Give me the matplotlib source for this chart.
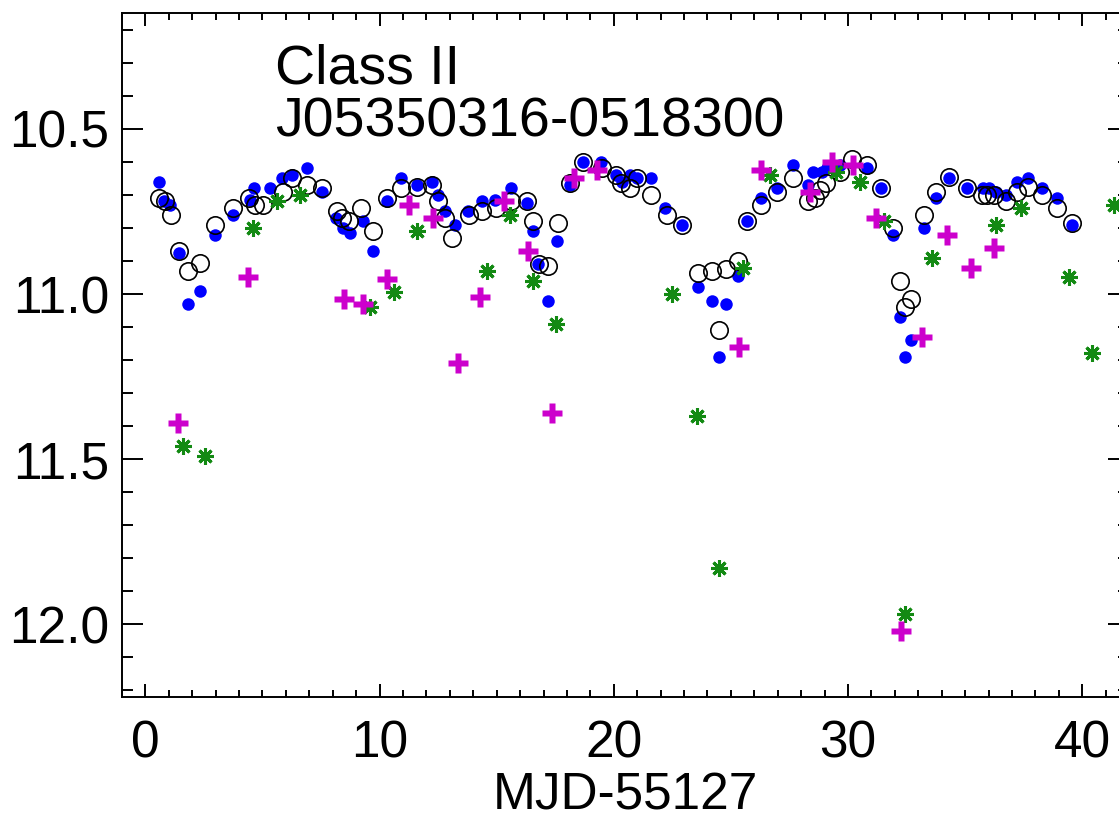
import numpy as np
import matplotlib
matplotlib.use("Agg")
import matplotlib.pyplot as plt
from matplotlib.ticker import MultipleLocator

plt.rcParams["font.family"] = ["Liberation Sans", "DejaVu Sans"]

# blue filled circles
blue_t = [0.60, 0.78, 1.07, 1.45, 1.83, 2.35, 2.99, 3.75, 4.48, 4.65, 5.33, 5.84,
          6.27, 6.90, 7.55, 8.14, 8.44, 8.74, 9.30, 9.72, 10.30, 10.90, 11.60,
          12.24, 12.50, 12.80, 13.20, 13.77, 14.37, 14.93, 15.60, 16.30, 16.55,
          16.76, 17.20, 17.57, 18.12, 18.68, 19.45, 20.10, 20.34, 20.68, 20.98,
          21.60, 22.20, 22.90, 23.60, 24.20, 24.50, 24.80, 25.30, 25.70, 26.30,
          26.95, 27.63, 28.27, 28.50, 28.87, 29.10, 29.64, 30.80, 31.40, 31.90,
          32.20, 32.45, 32.70, 33.26, 33.77, 34.33, 35.10, 35.78, 36.03, 36.33,
          36.76, 37.20, 37.70, 38.30, 38.93, 39.57]
blue_m = [10.66, 10.72, 10.73, 10.875, 11.03, 10.99, 10.82, 10.76, 10.715, 10.68,
          10.68, 10.65, 10.64, 10.62, 10.69, 10.77, 10.80, 10.815, 10.78, 10.87,
          10.72, 10.65, 10.67, 10.66, 10.70, 10.75, 10.79, 10.75, 10.72, 10.715,
          10.68, 10.725, 10.81, 10.91, 11.02, 10.84, 10.67, 10.60, 10.60, 10.64,
          10.66, 10.64, 10.65, 10.65, 10.74, 10.79, 10.98, 11.02, 11.19, 11.03,
          10.945, 10.78, 10.71, 10.68, 10.61, 10.67, 10.63, 10.63, 10.62, 10.61,
          10.62, 10.68, 10.82, 11.07, 11.19, 11.14, 10.80, 10.71, 10.65, 10.68,
          10.68, 10.68, 10.69, 10.70, 10.66, 10.65, 10.68, 10.71, 10.79]

# black open circles
open_t = [0.60, 0.85, 1.10, 1.45, 1.83, 2.35, 2.99, 3.75, 4.43, 4.69, 5.03, 5.88,
          6.27, 6.90, 7.55, 8.20, 8.40, 8.70, 9.20, 9.72, 10.30, 10.90, 11.60,
          12.24, 12.50, 12.80, 13.10, 13.80, 14.37, 14.97, 15.60, 16.30, 16.55,
          16.80, 17.20, 17.60, 18.12, 18.68, 19.50, 20.10, 20.30, 20.70, 21.00,
          21.60, 22.26, 22.90, 23.60, 24.20, 24.50, 24.80, 25.30, 25.70, 26.30,
          26.95, 27.63, 28.27, 28.57, 28.80, 29.08, 29.64, 30.15, 30.80, 31.40,
          31.90, 32.20, 32.45, 32.70, 33.26, 33.77, 34.33, 35.10, 35.70, 35.95,
          36.25, 36.76, 37.20, 37.70, 38.30, 38.93, 39.57]
open_m = [10.71, 10.72, 10.76, 10.87, 10.93, 10.905, 10.79, 10.74, 10.71, 10.73,
          10.73, 10.69, 10.65, 10.67, 10.68, 10.75, 10.77, 10.78, 10.74, 10.81,
          10.71, 10.68, 10.675, 10.67, 10.72, 10.77, 10.83, 10.76, 10.75, 10.74,
          10.72, 10.72, 10.78, 10.91, 10.915, 10.785, 10.665, 10.60, 10.62, 10.64,
          10.665, 10.68, 10.65, 10.70, 10.76, 10.79, 10.935, 10.93, 11.11, 10.925,
          10.90, 10.78, 10.73, 10.69, 10.65, 10.72, 10.71, 10.685, 10.665, 10.63,
          10.59, 10.61, 10.68, 10.80, 10.96, 11.04, 11.015, 10.76, 10.69, 10.645,
          10.68, 10.70, 10.70, 10.70, 10.72, 10.69, 10.675, 10.70, 10.74, 10.785]

# green asterisks
green_t = [1.62, 2.56, 4.60, 5.60, 6.60, 9.60, 10.60, 11.60, 14.58, 15.56, 16.55,
           17.53, 22.50, 23.54, 24.50, 25.50, 26.65, 29.47, 30.50, 31.55, 32.45,
           33.60, 36.33, 37.40, 39.45, 40.40, 41.36]
green_m = [11.46, 11.49, 10.80, 10.72, 10.70, 11.04, 10.995, 10.81, 10.93, 10.76,
           10.96, 11.09, 11.00, 11.37, 11.83, 10.92, 10.64, 10.63, 10.66, 10.78,
           11.97, 10.89, 10.79, 10.74, 10.95, 11.18, 10.73]

# magenta crosses
mag_t = [1.41, 4.40, 8.50, 9.30, 10.30, 11.26, 12.28, 13.35, 14.29, 15.30, 16.33,
         17.36, 18.30, 19.28, 25.33, 26.27, 28.36, 29.30, 30.23, 31.20, 32.28,
         33.18, 34.24, 35.27, 36.25]
mag_m = [11.39, 10.95, 11.015, 11.03, 10.955, 10.73, 10.77, 11.21, 11.01, 10.72,
         10.87, 11.36, 10.65, 10.625, 11.16, 10.625, 10.69, 10.60, 10.61, 10.77,
         12.02, 11.13, 10.82, 10.92, 10.86]

fig = plt.figure(figsize=(11.19, 8.23), dpi=100)
ax = fig.add_axes([0.109, 0.153, 0.900, 0.831])

ax.plot(blue_t, blue_m, "o", color="#0000ff", ms=9.0, mec="none", zorder=3)
ax.plot(open_t, open_m, "o", mfc="none", mec="black", ms=12.5, mew=1.2, zorder=4)
ax.plot(green_t, green_m, ls="none", marker=(8, 2, 0), color="#138a13",
        ms=12, mew=2.2, zorder=5)
ax.plot(mag_t, mag_m, "P", color="#cc00cc", mec="none", ms=15, zorder=6)

ax.set_xlim(-1, 42)
ax.set_ylim(12.22, 10.15)
ax.xaxis.set_major_locator(MultipleLocator(10))
ax.xaxis.set_minor_locator(MultipleLocator(1))
ax.yaxis.set_major_locator(MultipleLocator(0.5))
ax.yaxis.set_minor_locator(MultipleLocator(0.1))
ax.yaxis.set_major_formatter(plt.FormatStrFormatter("%.1f"))

ax.tick_params(which="both", direction="in", top=True, right=True,
               width=1.4, labelsize=37, colors="black")
ax.tick_params(axis="x", which="major", length=9.5, pad=16)
ax.tick_params(axis="x", which="minor", length=4.7)
ax.tick_params(axis="y", which="major", length=15, pad=9)
ax.tick_params(axis="y", which="minor", length=8)
for s in ax.spines.values():
    s.set_linewidth(1.4)

ax.set_xlabel("MJD-55127", fontsize=37, labelpad=2)

ax.text(0.152, 0.956, "Class II\nJ05350316-0518300", transform=ax.transAxes,
        ha="left", va="top", fontsize=40, linespacing=1.02)

fig.savefig("out.png", dpi=100)
